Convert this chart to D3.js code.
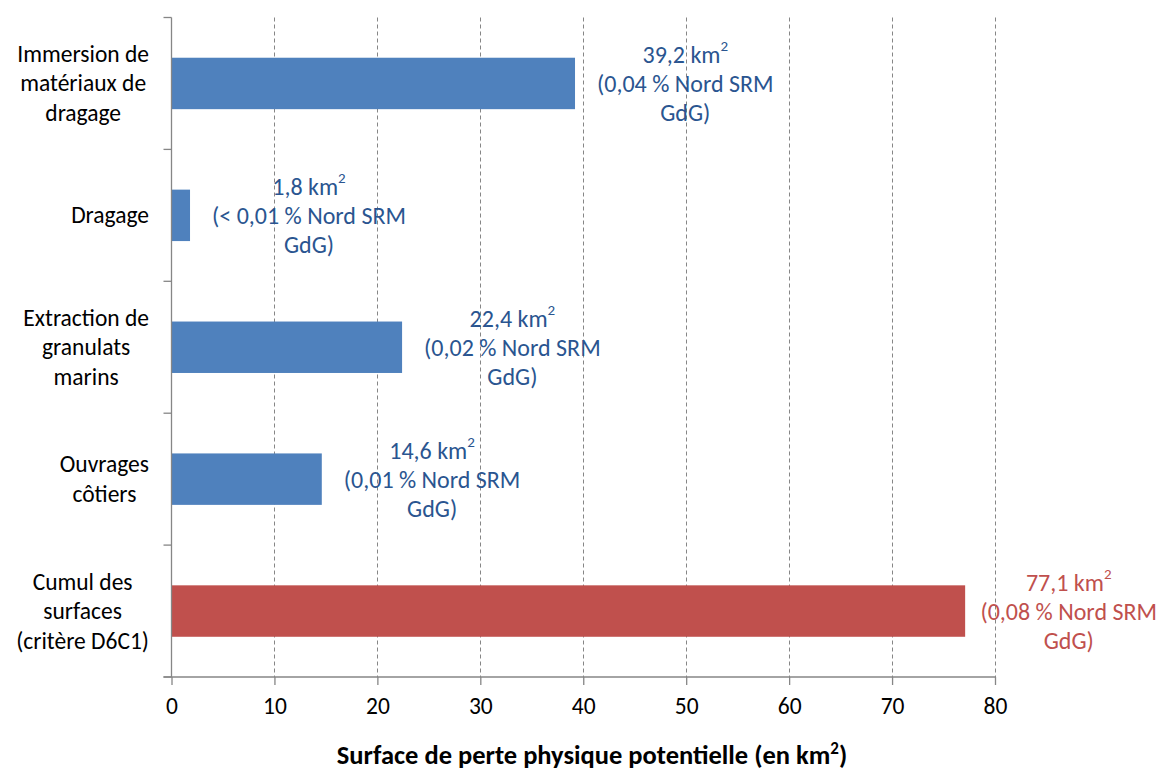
<!DOCTYPE html>
<html><head><meta charset="utf-8">
<script src="https://cdn.jsdelivr.net/npm/d3@7"></script>
<style>body{margin:0;background:#fff}svg{display:block}text{font-family:Carlito,Calibri,Lato,"Open Sans",sans-serif}</style>
</head><body><svg id="c" width="1161" height="772"></svg>
<script>
const categories = [
  ["Immersion de","matériaux de","dragage"],
  ["Dragage"],
  ["Extraction de","granulats","marins"],
  ["Ouvrages","côtiers"],
  ["Cumul des","surfaces","(critère D6C1)"]
];
const values = [39.2, 1.8, 22.4, 14.6, 77.1];
const shares = ["0,04 %", "< 0,01 %", "0,02 %", "0,01 %", "0,08 %"];
const isTotal = [false, false, false, false, true];
const xTicks = [0,10,20,30,40,50,60,70,80];
const xTitle = "Surface de perte physique potentielle (en km";

const svg = d3.select("#c");
const W = 1161;
const L = 171.5, T = 17.5, R = 995, B = 677;
const x = d3.scaleLinear().domain([0,80]).range([L,R]);
const y = d3.scaleBand().domain(d3.range(categories.length)).range([T,B]).paddingInner(0.61).paddingOuter(0.305);
const axisCol = "#868686";
const fs = 23.5, lh = 29.5, vfs = 24;

// gridlines
svg.append("g").selectAll("line").data(xTicks.filter(d=>d>0)).join("line")
  .attr("x1",d=>Math.round(x(d))+0.5).attr("x2",d=>Math.round(x(d))+0.5)
  .attr("y1",T).attr("y2",B)
  .attr("stroke",axisCol).attr("stroke-width",1).attr("stroke-dasharray","4,3");

// bars
svg.append("g").selectAll("rect").data(values).join("rect")
  .attr("x",x(0)).attr("y",(d,i)=>y(i)).attr("width",d=>x(d)-x(0)).attr("height",y.bandwidth())
  .attr("fill",(d,i)=>isTotal[i]?"#C0504D":"#4F81BD");

// y axis
const yb = d3.range(categories.length+1).map(i=>T+i*(B-T)/categories.length);
const ya = svg.append("g").attr("stroke",axisCol).attr("stroke-width",1.3);
ya.append("line").attr("x1",L).attr("x2",L).attr("y1",T).attr("y2",B);
ya.selectAll(".t").data(yb).join("line").attr("class","t").attr("x1",L-8).attr("x2",L).attr("y1",d=>d).attr("y2",d=>d);

// x axis
const xa = svg.append("g").attr("transform",`translate(0,${B})`)
  .call(d3.axisBottom(x).tickValues(xTicks).tickSize(8).tickPadding(12).tickFormat(d3.format("d")));
xa.select(".domain").remove();
xa.insert("line",":first-child").attr("x1",L-8).attr("x2",R).attr("stroke",axisCol).attr("stroke-width",1.3);
xa.selectAll(".tick line").attr("stroke",axisCol).attr("stroke-width",1.3);
xa.selectAll(".tick text").attr("fill","#000").style("font-size",fs+"px").style("font-family","Carlito,Calibri,Lato,sans-serif");

// category labels
categories.forEach((lines,i)=>{
  const cy = y(i)+y.bandwidth()/2;
  const g = svg.append("g");
  const ts = lines.map((s,k)=>g.append("text").text(s).attr("font-size",fs).attr("fill","#000")
    .attr("dominant-baseline","central").attr("y",cy+(k-(lines.length-1)/2)*lh));
  const w = d3.max(ts,t=>t.node().getComputedTextLength());
  const cx = 149 - w/2;
  ts.forEach(t=>t.attr("x",cx).attr("text-anchor","middle"));
});

// value labels
values.forEach((v,i)=>{
  const cy = y(i)+y.bandwidth()/2;
  const col = isTotal[i]?"#C0504D":"#2A5590";
  const lines = [null, "("+shares[i]+" Nord SRM", "GdG)"];
  const g = svg.append("g").attr("fill",col).attr("font-size",vfs);
  const ts = lines.map((s,k)=>{
    const t = g.append("text").attr("dominant-baseline","central").attr("y",cy+(k-1)*lh).attr("text-anchor","middle");
    if (k===0){
      t.append("tspan").text(d3.format(".1f")(v).replace(".",",")+" km");
      t.append("tspan").text("2").attr("font-size",15).attr("dy",-8);
    } else t.text(s);
    return t;
  });
  const w = d3.max(ts,t=>t.node().getComputedTextLength());
  const cx = Math.min(x(v) + 22 + w/2, W - 4 - w/2);
  ts.forEach(t=>t.attr("x",cx));
});

// x title
const tt = svg.append("text").attr("x",592).attr("y",764).attr("text-anchor","middle")
  .attr("font-size",26.5).attr("font-weight","bold").attr("fill","#000");
tt.append("tspan").text(xTitle);
tt.append("tspan").text("2").attr("font-size",17).attr("dy",-10);
tt.append("tspan").text(")").attr("dy",10);
</script></body></html>
